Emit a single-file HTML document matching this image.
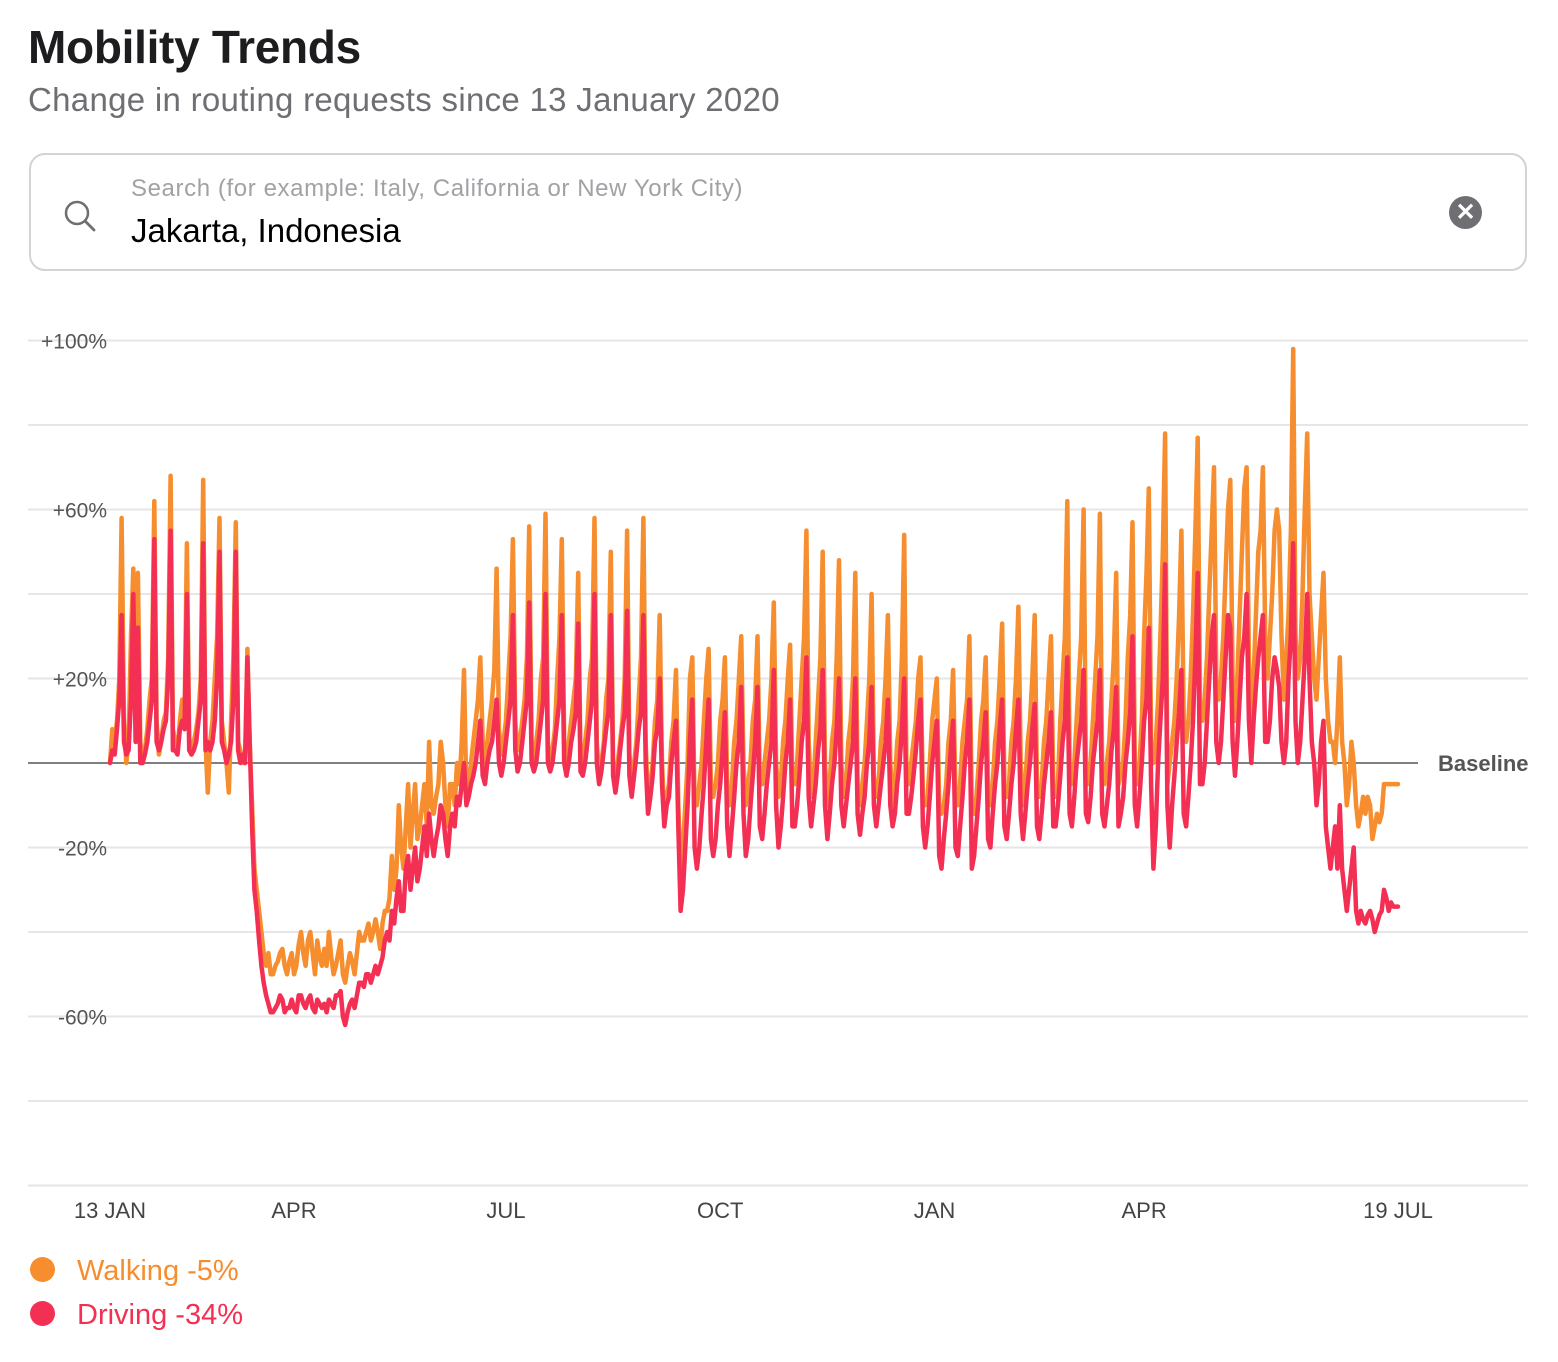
<!DOCTYPE html>
<html><head><meta charset="utf-8">
<style>
body{margin:0;background:#fff;font-family:"Liberation Sans",sans-serif;}
#wrap{position:relative;width:1558px;height:1362px;overflow:hidden;}
h1{position:absolute;left:28px;top:20px;margin:0;font-size:46px;font-weight:bold;color:#1d1d1f;letter-spacing:-0.3px;}
.sub{position:absolute;left:28px;top:81px;font-size:33px;color:#6e6e73;letter-spacing:0.3px;}
.search{position:absolute;left:29px;top:153px;width:1498px;height:118px;border:2px solid #d2d2d7;border-radius:16px;box-sizing:border-box;}
.ph{position:absolute;left:100px;top:20px;font-size:24px;color:#a1a1a6;letter-spacing:0.6px;}
.val{position:absolute;left:100px;top:57px;font-size:33px;color:#000;}
.clear{position:absolute;left:1418px;top:41px;width:33px;height:33px;border-radius:50%;background:#6e6e73;color:#fff;font-size:24px;line-height:33px;text-align:center;font-weight:bold;}
svg{position:absolute;left:0;top:0;}
.leg{position:absolute;left:77px;font-size:29px;}
.dot{position:absolute;left:30px;width:25px;height:25px;border-radius:50%;}
</style></head><body>
<div id="wrap">
<h1>Mobility Trends</h1>
<div class="sub">Change in routing requests since 13 January 2020</div>
<div class="search">
 <svg width="40" height="40" style="left:30px;top:42px"><circle cx="16" cy="16" r="11" fill="none" stroke="#6e6e73" stroke-width="2.5"/><line x1="24" y1="24" x2="33" y2="33" stroke="#6e6e73" stroke-width="2.8" stroke-linecap="round"/></svg>
 <div class="ph">Search (for example: Italy, California or New York City)</div>
 <div class="val">Jakarta, Indonesia</div>
 <div class="clear">✕</div>
</div>
<svg id="chart" width="1558" height="1362"></svg>
<div class="dot" style="top:1257px;background:#f68d2e"></div>
<div class="leg" style="top:1255px;color:#f68d2e">Walking -5%</div>
<div class="dot" style="top:1301px;background:#f42f54"></div>
<div class="leg" style="top:1299px;color:#f42f54">Driving -34%</div>
</div>
<script>
const yTicks=[100,80,60,40,20,-20,-40,-60,-80,-100];
const yTickLabels=["+100%","","+60%","","+20%","-20%","","-60%","",""];
const xTickDays=[0,79,170,262,354,444,553];
const xTickLabels=["13 JAN","APR","JUL","OCT","JAN","APR","19 JUL"];
const walking=[
0,8,5,10,20,58,10, 0,5,30,46,10,45,5, 0,3,8,15,20,62,10, 2,5,10,12,25,68,8, 5,3,10,15,10,52,6, 2,5,8,12,20,67,5, -7,5,10,20,30,58,10, 5,0,-7,10,25,57,5,
3,0,2,27,5,-10,-25, -30,-35,-40,-45,-48,-45,-50, -50,-48,-47,-45,-44,-48,-50, -47,-45,-50,-48,-43,-40,-45, -48,-42,-40,-45,-50,-42,-46, -48,-44,-48,-40,-46,-50,-48,
-45,-42,-50,-52,-48,-45,-47, -50,-45,-40,-42,-42,-40,-38, -42,-40,-37,-40,-44,-38,-35, -35,-32,-22,-30,-25,-10,-20, -25,-15,-5,-20,-12,-5,-18, -15,-10,-5,-15,5,-10,-12,
-8,-5,5,0,-10,-15,-5, -5,-10,0,-5,5,22,-8, -5,0,5,10,15,25,5, 0,5,10,15,22,46,8, 2,5,10,20,30,53,10, 3,5,10,15,25,56,5, 0,5,10,20,25,59,5, 0,3,8,20,30,53,5,
0,5,10,15,20,45,0, 0,5,10,20,25,58,5, -3,0,5,15,20,50,0, -5,0,5,10,20,55,2, -5,0,5,15,25,58,5, -10,-5,0,10,15,35,0, -12,-8,-5,5,10,22,-10, -25,-20,-10,0,20,25,-10,
-10,-5,0,10,20,27,-5, -8,-5,0,10,15,25,-5, -10,-5,5,10,20,30,0, -10,-5,0,10,15,30,-5, -5,0,5,10,20,38,0, -8,-5,5,10,20,28,-5, -5,0,10,20,30,55,5, -8,-5,5,15,25,50,0,
-10,-5,5,10,25,48,0, -8,-5,5,10,20,45,-5, -10,-5,0,10,20,40,-3, -8,-5,5,10,20,35,0, -10,-5,5,10,25,54,-5, -5,0,5,10,20,25,-8, -10,-8,0,10,15,20,-10, -12,-10,-5,5,10,22,-8,
-10,-5,5,10,15,30,-10, -12,-8,0,10,15,25,-5, -10,-5,5,10,20,33,-5, -8,-5,5,10,20,37,0, -10,-5,5,10,20,35,-5, -8,-5,5,10,20,30,-5, -8,-5,10,20,30,62,0, -5,0,10,20,30,60,0,
-5,0,10,20,30,59,-3, -5,0,5,15,25,45,-5, -3,0,10,25,35,57,0, -5,0,10,30,45,65,5, 0,5,15,30,50,78,-5, 0,5,10,20,35,55,10, 5,10,20,35,55,77,15, 10,15,25,40,55,70,20,
15,20,30,45,60,67,20, 10,20,35,50,65,70,25, 10,20,35,50,55,70,30, 20,30,40,55,60,55,30, 15,25,35,55,98,30,20, 25,40,60,78,40,30,20, 15,25,35,45,20,10,5, 5,0,10,25,5,0,-10,
-5,5,0,-10,-15,-12,-8, -12,-8,-10,-18,-15,-12,-14, -12,-5,-5,-5,-5,-5,-5,-5];
const driving=[
0,3,2,8,15,35,5, 2,3,15,40,5,32,0, 0,2,5,10,15,53,5, 3,5,8,10,20,55,3, 3,2,8,10,8,40,3, 2,3,5,10,15,52,3, 5,3,5,10,20,50,5, 3,0,2,5,15,50,3,
0,2,0,25,5,-15,-30, -35,-42,-48,-52,-55,-57,-59, -59,-58,-57,-55,-56,-59,-58, -58,-56,-58,-59,-55,-55,-57, -58,-56,-55,-58,-59,-56,-57, -58,-57,-59,-56,-57,-58,-55,
-55,-54,-60,-62,-59,-57,-56, -58,-55,-52,-52,-53,-50,-50, -52,-50,-48,-50,-48,-46,-42, -40,-42,-35,-38,-32,-28,-35, -35,-25,-22,-30,-25,-20,-28, -25,-20,-15,-22,-12,-18,-22,
-18,-15,-10,-12,-18,-22,-15, -12,-15,-8,-10,-5,0,-10, -8,-5,-3,0,5,10,-3, -5,0,3,5,10,15,0, -3,0,5,10,15,35,3, -2,0,5,10,15,38,0, -2,0,5,10,15,40,0, -2,0,5,10,15,35,0,
-3,0,5,8,12,33,-2, -3,0,5,10,15,40,0, -5,-2,3,8,12,35,-3, -7,-3,3,8,12,36,-3, -8,-3,2,8,12,35,0, -12,-8,-3,5,8,20,-5, -15,-10,-8,0,5,10,-15, -35,-30,-20,-10,5,15,-20,
-25,-20,-12,-5,5,15,-18, -22,-18,-10,-5,3,12,-15, -22,-15,-8,0,5,18,-12, -22,-18,-10,-3,5,18,-15, -18,-12,-5,0,5,22,-10, -20,-15,-8,0,5,15,-15, -15,-10,-3,5,10,25,-8, -15,-10,-5,3,8,22,-10,
-18,-12,-5,0,8,20,-10, -15,-10,-5,0,5,20,-12, -17,-12,-8,0,5,18,-10, -15,-10,-5,0,5,15,-10, -15,-12,-5,0,8,20,-12, -12,-8,-3,3,10,15,-15, -20,-15,-8,0,5,10,-22, -25,-18,-12,-5,3,10,-20,
-22,-15,-8,0,5,15,-25, -22,-15,-8,0,5,12,-18, -20,-12,-5,0,8,15,-15, -18,-12,-5,0,8,15,-12, -18,-12,-5,0,8,14,-15, -18,-12,-5,0,5,12,-15, -15,-10,-3,5,10,25,-12, -15,-8,0,5,10,22,-12,
-14,-8,0,5,10,22,-12, -15,-10,-5,3,8,18,-15, -12,-8,0,5,12,30,-10, -15,-8,0,10,15,32,-5, -25,-15,0,10,20,47,-10, -20,-10,-3,5,12,22,-12, -15,-8,0,10,25,45,-5, -5,0,10,20,30,35,5,
0,5,15,25,35,32,5, -3,5,15,25,30,40,10, 0,10,18,25,30,35,5, 5,10,20,25,22,18,5, 0,5,20,30,52,10,0, 5,15,25,40,20,5,0, -10,-5,5,10,-15,-20,-25, -20,-15,-25,-10,-25,-30,-35,
-30,-25,-20,-35,-38,-35,-37, -38,-36,-35,-37,-40,-38,-36, -35,-30,-32,-35,-33,-34,-34,-34];

const NS="http://www.w3.org/2000/svg";
const svg=document.getElementById('chart');
const x0=110,x1=1398,nDays=553;
function xs(d){return x0+(x1-x0)*d/nDays;}
function ys(v){return 763-v*4.225;}
function mk(t,a){const e=document.createElementNS(NS,t);for(const k in a)e.setAttribute(k,a[k]);svg.appendChild(e);return e;}
yTicks.forEach((v,i)=>{
 const l=mk('line',{x1:28,x2:1528,y1:ys(v),y2:ys(v),stroke:'#e6e6e6','stroke-width':2});
 
 
 if(yTickLabels[i]){
  const t=mk('text',{x:107,y:ys(v)+8,'text-anchor':'end','font-size':21,fill:'#555','font-family':'Liberation Sans, sans-serif'});
  t.textContent=yTickLabels[i];
  
  
 }
});
xTickDays.forEach((d,i)=>{
 const t=mk('text',{x:xs(d),y:1218,'text-anchor':'middle','font-size':22,fill:'#444','font-family':'Liberation Sans, sans-serif'});
 t.textContent=xTickLabels[i];
 
 
});
const bl=mk('line',{x1:28,x2:1418,y1:ys(0),y2:ys(0),stroke:'#555','stroke-width':1.5});


const bt=mk('text',{x:1438,y:ys(0)+8,'font-size':22,fill:'#555','font-weight':'bold','font-family':'Liberation Sans, sans-serif'});
bt.textContent='Baseline';


function series(arr,col,name){
 const pts=arr.map((v,i)=>xs(i).toFixed(1)+','+ys(v).toFixed(1)).join(' ');
 const p=mk('polyline',{points:pts,fill:'none',stroke:col,'stroke-width':4.5,'stroke-linejoin':'round','stroke-linecap':'round'});
 
 
}
series(walking,'#f68d2e','walking-line');
series(driving,'#f42f54','driving-line');
</script>
</body></html>
